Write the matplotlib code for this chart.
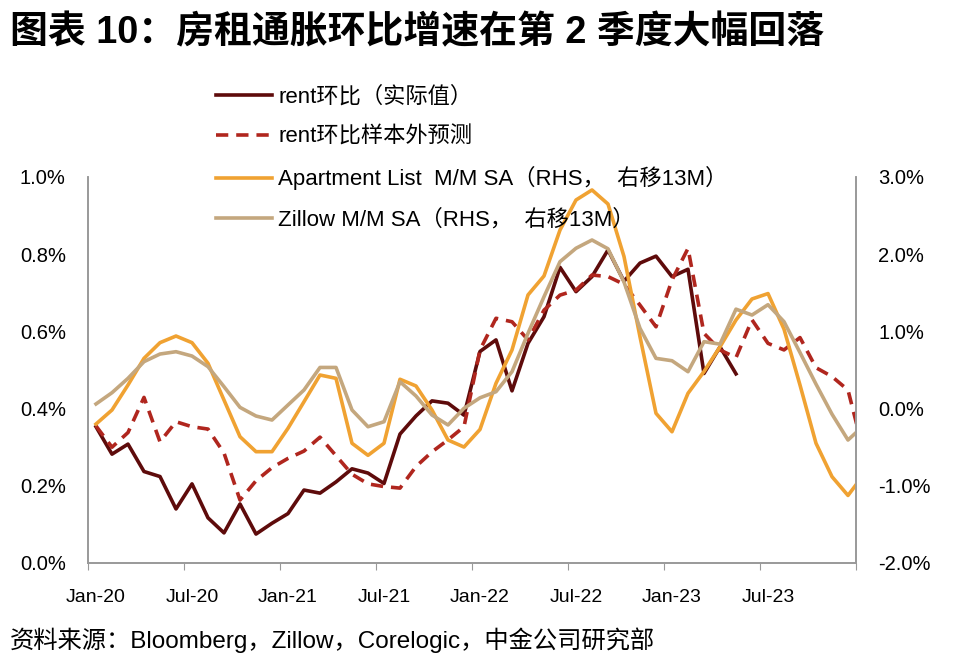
import matplotlib
matplotlib.use("Agg")
import matplotlib.pyplot as plt
import numpy as np

# monthly data, Jan-20 .. Jan-24 (last point is clipped by the axis end)
rent_actual = [0.353, 0.282, 0.308, 0.237, 0.224, 0.140, 0.205, 0.117, 0.078, 0.153,
               0.075, 0.103, 0.128, 0.189, 0.181, 0.210, 0.244, 0.233, 0.206, 0.334,
               0.381, 0.420, 0.414, 0.383, 0.548, 0.578, 0.446, 0.569, 0.638, 0.766,
               0.703, 0.742, 0.811, 0.730, 0.777, 0.795, 0.742, 0.761, 0.491, 0.560,
               0.490]
rent_forecast = [0.355, 0.300, 0.338, 0.429, 0.314, 0.366, 0.353, 0.347, 0.285, 0.163,
                 0.213, 0.247, 0.271, 0.290, 0.326, 0.278, 0.230, 0.205, 0.198, 0.194,
                 0.250, 0.288, 0.319, 0.353, 0.552, 0.634, 0.625, 0.578, 0.655, 0.694,
                 0.707, 0.746, 0.742, 0.722, 0.668, 0.612, 0.733, 0.815, 0.595, 0.552,
                 0.532, 0.630, 0.569, 0.552, 0.584, 0.506, 0.483, 0.448, 0.285]
apartment_list = [-0.200, -0.018, 0.306, 0.651, 0.854, 0.940, 0.854, 0.587, 0.111, -0.364,
                  -0.558, -0.558, -0.255, 0.089, 0.435, 0.392, -0.449, -0.605, -0.449, 0.380,
                  0.293, -0.018, -0.407, -0.498, -0.270, 0.328, 0.759, 1.472, 1.718, 2.313,
                  2.702, 2.832, 2.650, 1.970, 0.930, -0.061, -0.300, 0.198, 0.480, 0.800,
                  1.148, 1.420, 1.490, 1.030, 0.305, -0.449, -0.882, -1.125, -0.850]
zillow = [0.060, 0.206, 0.392, 0.608, 0.707, 0.737, 0.681, 0.543, 0.284, 0.016,
          -0.096, -0.148, 0.047, 0.241, 0.533, 0.533, -0.018, -0.235, -0.170, 0.348,
          0.163, -0.083, -0.212, 0.004, 0.140, 0.219, 0.478, 0.975, 1.449, 1.903,
          2.077, 2.184, 2.070, 1.640, 1.040, 0.651, 0.620, 0.478, 0.867, 0.835,
          1.288, 1.212, 1.346, 1.126, 0.726, 0.317, -0.072, -0.407, -0.216]

tick_labels = ["Jan-20", "Jul-20", "Jan-21", "Jul-21", "Jan-22", "Jul-22", "Jan-23", "Jul-23"]
n_months = 48

labels = ["rent环比（实际值）", "rent环比样本外预测",
          "Apartment List  M/M SA（RHS，  右移13M）", "Zillow M/M SA（RHS，  右移13M）"]

c_dark = "#5E0B0B"
c_dash = "#B0261E"
c_orange = "#F0A232"
c_tan = "#C4A77E"

cjk = ["Liberation Sans", "Noto Sans CJK SC"]
plt.rcParams['font.family'] = cjk

fig = plt.figure(figsize=(9.57, 6.71), dpi=100)
ax = fig.add_axes([88/957, 1-563/671, (856-88)/957, (563-177)/671])
ax2 = ax.twinx()

l1, = ax.plot(np.arange(len(rent_actual)), rent_actual, color=c_dark, lw=2.6)
l2, = ax.plot(np.arange(len(rent_forecast)), rent_forecast, color=c_dash, lw=2.6,
              dashes=(3.4, 2.2))
l3, = ax2.plot(np.arange(len(apartment_list)), apartment_list, color=c_orange, lw=2.6)
l4, = ax2.plot(np.arange(len(zillow)), zillow, color=c_tan, lw=2.6)

ax.set_xlim(-0.5, n_months - 0.5)
ax.set_ylim(0, 1.0)
ax2.set_ylim(-2.0, 3.0)

yt = np.arange(0, 1.01, 0.2)
ax.set_yticks(yt)
ax.set_yticklabels(["%.1f%%" % v for v in yt], fontsize=14.5)
yt2 = np.arange(-2, 3.01, 1.0)
ax2.set_yticks(yt2)
ax2.set_yticklabels(["%.1f%%" % v for v in yt2], fontsize=14.5)
ax.tick_params(axis='y', length=0, pad=16)
ax2.tick_params(axis='y', length=0, pad=16)

ax.set_xticks(np.arange(-0.5, n_months, 6))
ax.set_xticklabels([])
ax.set_xticks(np.arange(0, n_months - 5, 6), minor=True)
ax.set_xticklabels(tick_labels, minor=True, fontsize=14)
ax.tick_params(axis='x', which='major', length=5, color="#999999", direction='out')
ax.tick_params(axis='x', which='minor', length=0, pad=19)

for a in (ax, ax2):
    a.spines['top'].set_visible(False)
    for s in ('left', 'right', 'bottom'):
        a.spines[s].set_color("#999999")
        a.spines[s].set_linewidth(1.2)

fig.legend([l1, l2, l3, l4], labels, loc='upper left', bbox_to_anchor=(216/957, 1-86/671),
           frameon=False, fontsize=16, handlelength=2.5, handletextpad=0.3,
           labelspacing=0.85, borderpad=0, borderaxespad=0)

fig.text(10/957, 1-33/671, "图表 10：房租通胀环比增速在第 2 季度大幅回落", fontsize=27.3,
         fontweight='bold', va='center', ha='left')
fig.text(10/957, 1-640/671, "资料来源：Bloomberg，Zillow，Corelogic，中金公司研究部", fontsize=17.5,
         va='center', ha='left')

fig.savefig("out.png", dpi=100)
